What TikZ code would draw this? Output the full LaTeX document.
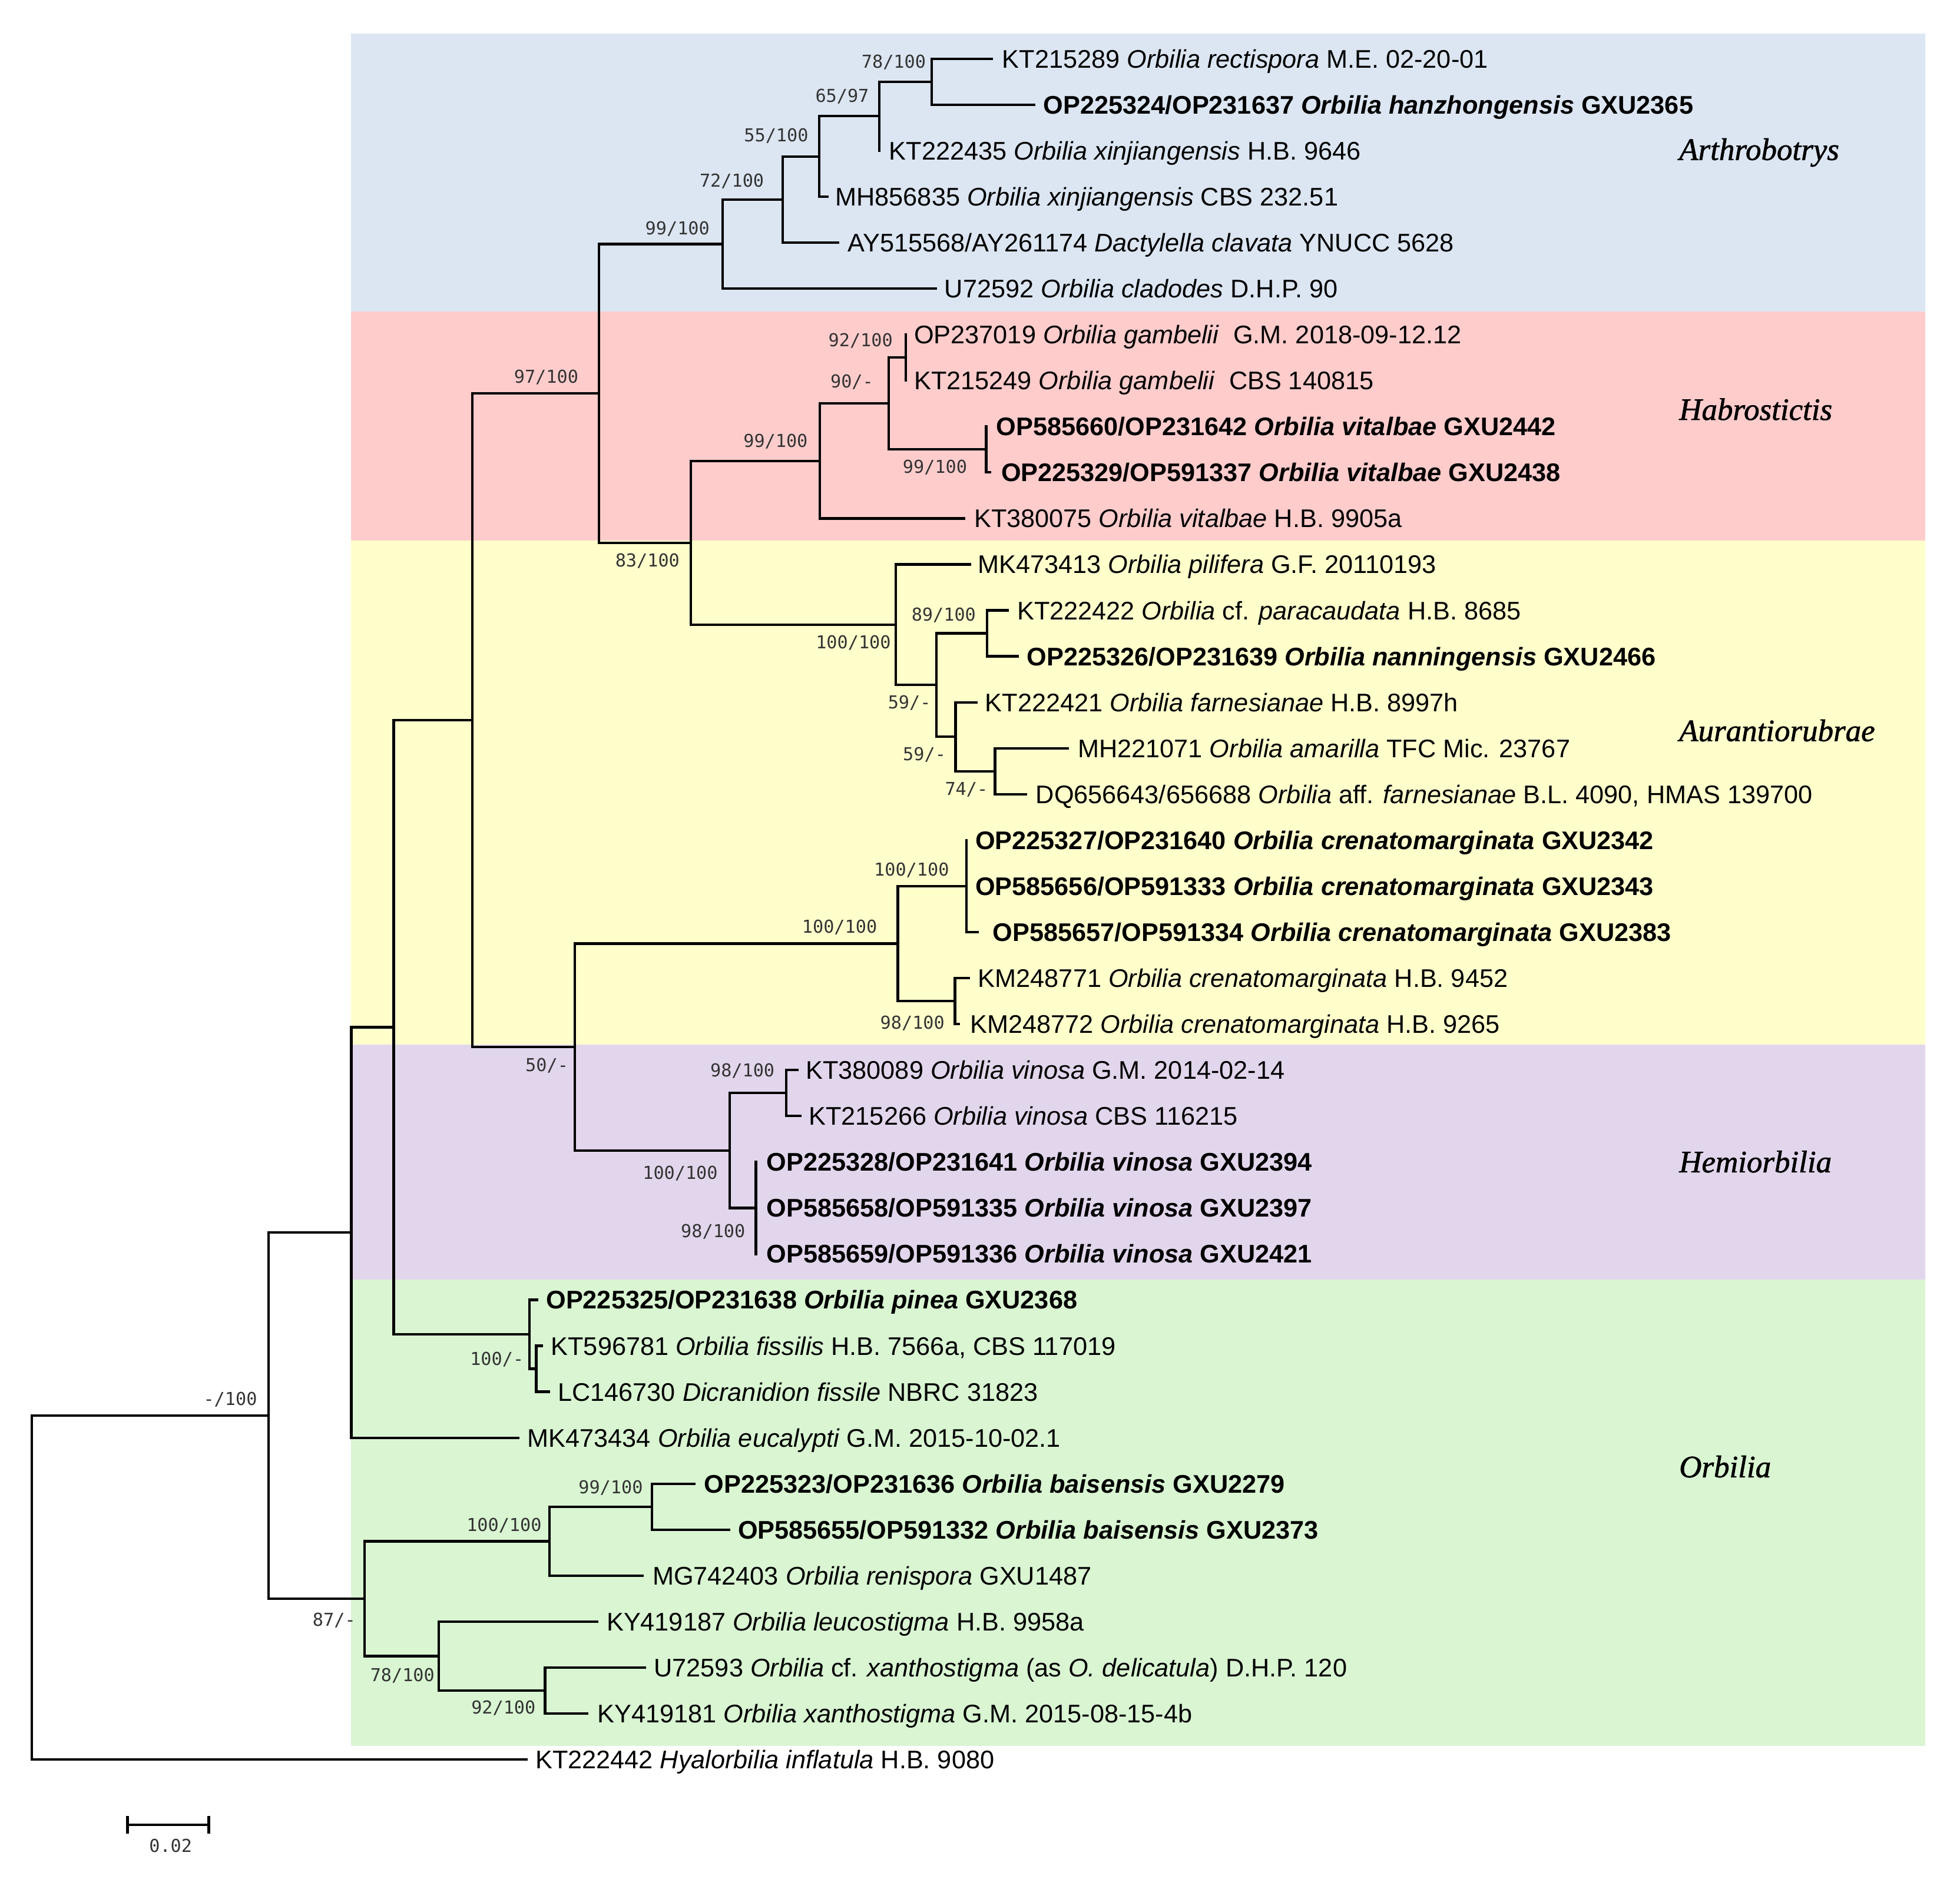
\documentclass[tikz,border=0pt]{standalone}
\usepackage{fontspec}
\setmainfont{Liberation Sans}[Ligatures=NoCommon]
\newfontfamily\supfont{DejaVu Sans Mono}
\newfontfamily\cladefont{Liberation Serif}[ItalicFeatures={FakeBold=1.3}]
\definecolor{bandA}{HTML}{DCE6F2}
\definecolor{bandH}{HTML}{FFCCCC}
\definecolor{bandU}{HTML}{FFFFCC}
\definecolor{bandE}{HTML}{E2D6EC}
\definecolor{bandO}{HTML}{D9F5D2}
\begin{document}
\begin{tikzpicture}[x=0.02cm,y=-0.02cm,
  br/.style={line width=1.15pt, line cap=rect, line join=miter},
  leaf/.style={anchor=west, inner sep=0pt, text height=8.3pt, text depth=0pt,
    font=\fontsize{11.6pt}{13pt}\selectfont},
  bleaf/.style={leaf, font=\fontsize{11.6pt}{13pt}\selectfont\bfseries},
  supp/.style={anchor=east, inner sep=0pt, text height=5.9pt, text depth=0pt,
    font=\supfont\fontsize{8.1pt}{9pt}\selectfont, text=black!80},
  clade/.style={anchor=base west, inner sep=0pt,
    font=\cladefont\itshape\fontsize{14.2pt}{16pt}\selectfont}]
\useasboundingbox (0,0) rectangle (1568,1511);
% background bands
\fill[bandA] (281,27) rectangle (1540,249.3);
\fill[bandH] (281,249.3) rectangle (1540,432.5);
\fill[bandU] (281,432.5) rectangle (1540,836);
\fill[bandE] (281,836) rectangle (1540,1024);
\fill[bandO] (281,1024) rectangle (1540,1397);
% clade names
\node[clade] (cA) at (1343,128) {Arthrobotrys};
\node[clade] (cH) at (1343,336) {Habrostictis};
\node[clade] (cU) at (1343,593) {Aurantiorubrae};
\node[clade] (cE) at (1343,938) {Hemiorbilia};
\node[clade] (cO) at (1343,1182) {Orbilia};
% internal nodes
\coordinate (R) at (25.6,1270.26);
\coordinate (N1) at (215,1132.66);
\coordinate (N2) at (281,986.19);
\coordinate (N3) at (315,821.97);
\coordinate (N4) at (378,576.29);
\coordinate (N5) at (479,314.8);
\coordinate (N6) at (578,195.27);
\coordinate (N7) at (626,159.64);
\coordinate (N8) at (655.5,125.16);
\coordinate (N9) at (703.5,92.98);
\coordinate (N10) at (745.5,65.39);
\coordinate (N11) at (552.5,434.34);
\coordinate (N12) at (656,368.83);
\coordinate (N13) at (711,322.85);
\coordinate (N14) at (724.5,286.07);
\coordinate (N15) at (789,359.63);
\coordinate (N16) at (716.5,499.85);
\coordinate (N17) at (749,548.1);
\coordinate (N18) at (789.5,506.75);
\coordinate (N19) at (764.5,589.5);
\coordinate (N20) at (796,617.09);
\coordinate (N21) at (460,837.77);
\coordinate (N22) at (718.2,755.02);
\coordinate (N23) at (583.6,920.53);
\coordinate (N24) at (773.2,709.04);
\coordinate (N25) at (764,800.99);
\coordinate (N26) at (629,874.55);
\coordinate (N27) at (604.7,966.5);
\coordinate (N28) at (423.7,1067.65);
\coordinate (N29) at (429,1095.23);
\coordinate (N30) at (291.5,1279.13);
\coordinate (N31) at (439.6,1233.16);
\coordinate (N32) at (351,1325.1);
\coordinate (N33) at (521.7,1205.57);
\coordinate (N34) at (436,1352.69);
% leaf tips
\coordinate (t1) at (793.5,47);
\coordinate (t2) at (827.3,83.78);
\coordinate (t3) at (703.5,120.56);
\coordinate (t4) at (661.7,157.34);
\coordinate (t5) at (670.6,194.12);
\coordinate (t6) at (748.6,230.9);
\coordinate (t7) at (724.5,267.68);
\coordinate (t8) at (724.5,304.46);
\coordinate (t9) at (789,341.24);
\coordinate (t10) at (792,378.02);
\coordinate (t11) at (771.2,414.8);
\coordinate (t12) at (775.7,451.58);
\coordinate (t13) at (806.3,488.36);
\coordinate (t14) at (814.2,525.14);
\coordinate (t15) at (781,561.92);
\coordinate (t16) at (854.2,598.7);
\coordinate (t17) at (820.5,635.48);
\coordinate (t18) at (773.2,672.26);
\coordinate (t19) at (773.2,709.04);
\coordinate (t20) at (782.2,745.82);
\coordinate (t21) at (775,782.6);
\coordinate (t22) at (766.8,819.38);
\coordinate (t23) at (638.1,856.16);
\coordinate (t24) at (640.2,892.94);
\coordinate (t25) at (604.7,929.72);
\coordinate (t26) at (604.7,966.5);
\coordinate (t27) at (604.7,1003.28);
\coordinate (t28) at (429.5,1040.06);
\coordinate (t29) at (433.4,1076.84);
\coordinate (t30) at (438.9,1113.62);
\coordinate (t31) at (414.6,1150.4);
\coordinate (t32) at (555.5,1187.18);
\coordinate (t33) at (583,1223.96);
\coordinate (t34) at (513.8,1260.74);
\coordinate (t35) at (477.7,1297.52);
\coordinate (t36) at (515.7,1334.3);
\coordinate (t37) at (469.8,1371.08);
\coordinate (t38) at (421,1407.86);
% branches
\foreach \p/\c in {R/N1,R/t38,N1/N2,N1/N30,N2/N3,N2/t31,N3/N4,N3/N28,N4/N5,N4/N21,
  N5/N6,N5/N11,N6/N7,N6/t6,N7/N8,N7/t5,N8/N9,N8/t4,N9/N10,N9/t3,N10/t1,N10/t2,
  N11/N12,N11/N16,N12/N13,N12/t11,N13/N14,N13/N15,N14/t7,N14/t8,N15/t9,N15/t10,
  N16/t12,N16/N17,N17/N18,N17/N19,N18/t13,N18/t14,N19/t15,N19/N20,N20/t16,N20/t17,
  N21/N22,N21/N23,N22/N24,N22/N25,N24/t18,N24/t20,N25/t21,N25/t22,
  N23/N26,N23/N27,N26/t23,N26/t24,N27/t25,N27/t27,
  N28/t28,N28/N29,N29/t29,N29/t30,N30/N31,N30/N32,N31/N33,N31/t34,N33/t32,N33/t33,
  N32/t35,N32/N34,N34/t36,N34/t37}
  \draw[br] (\p) |- (\c);
% leaf labels
\node[leaf] (l1) at (801.5,47) {KT215289 \textit{Orbilia rectispora} M.E. 02-20-01};
\node[bleaf] (l2) at (834.3,83.78) {OP225324/OP231637 \textit{Orbilia hanzhongensis} GXU2365};
\node[leaf] (l3) at (711,120.56) {KT222435 \textit{Orbilia xinjiangensis} H.B. 9646};
\node[leaf] (l4) at (668,157.34) {MH856835 \textit{Orbilia xinjiangensis} CBS 232.51};
\node[leaf] (l5) at (678,194.12) {AY515568/AY261174 \textit{Dactylella clavata} YNUCC 5628};
\node[leaf] (l6) at (755.3,230.9) {U72592 \textit{Orbilia cladodes} D.H.P. 90};
\node[leaf] (l7) at (731,267.68) {OP237019 \textit{Orbilia gambelii}\ \ G.M. 2018-09-12.12};
\node[leaf] (l8) at (731,304.46) {KT215249 \textit{Orbilia gambelii}\ \ CBS 140815};
\node[bleaf] (l9) at (796.7,341.24) {OP585660/OP231642 \textit{Orbilia vitalbae} GXU2442};
\node[bleaf] (l10) at (800.6,378.02) {OP225329/OP591337 \textit{Orbilia vitalbae} GXU2438};
\node[leaf] (l11) at (779,414.8) {KT380075 \textit{Orbilia vitalbae} H.B. 9905a};
\node[leaf] (l12) at (782,451.58) {MK473413 \textit{Orbilia pilifera} G.F. 20110193};
\node[leaf] (l13) at (813.4,488.36) {KT222422 \textit{Orbilia} cf. \textit{paracaudata} H.B. 8685};
\node[bleaf] (l14) at (821.2,525.14) {OP225326/OP231639 \textit{Orbilia nanningensis} GXU2466};
\node[leaf] (l15) at (787.8,561.92) {KT222421 \textit{Orbilia farnesianae} H.B. 8997h};
\node[leaf] (l16) at (862,598.7) {MH221071 \textit{Orbilia amarilla} TFC Mic. 23767};
\node[leaf] (l17) at (828.3,635.48) {DQ656643/656688 \textit{Orbilia} aff. \textit{farnesianae} B.L. 4090, HMAS 139700};
\node[bleaf] (l18) at (780,672.26) {OP225327/OP231640 \textit{Orbilia crenatomarginata} GXU2342};
\node[bleaf] (l19) at (780,709.04) {OP585656/OP591333 \textit{Orbilia crenatomarginata} GXU2343};
\node[bleaf] (l20) at (794,745.82) {OP585657/OP591334 \textit{Orbilia crenatomarginata} GXU2383};
\node[leaf] (l21) at (782.2,782.6) {KM248771 \textit{Orbilia crenatomarginata} H.B. 9452};
\node[leaf] (l22) at (775.9,819.38) {KM248772 \textit{Orbilia crenatomarginata} H.B. 9265};
\node[leaf] (l23) at (644.4,856.16) {KT380089 \textit{Orbilia vinosa} G.M. 2014-02-14};
\node[leaf] (l24) at (646.8,892.94) {KT215266 \textit{Orbilia vinosa} CBS 116215};
\node[bleaf] (l25) at (613,929.72) {OP225328/OP231641 \textit{Orbilia vinosa} GXU2394};
\node[bleaf] (l26) at (613,966.5) {OP585658/OP591335 \textit{Orbilia vinosa} GXU2397};
\node[bleaf] (l27) at (613,1003.28) {OP585659/OP591336 \textit{Orbilia vinosa} GXU2421};
\node[bleaf] (l28) at (436.6,1040.06) {OP225325/OP231638 \textit{Orbilia pinea} GXU2368};
\node[leaf] (l29) at (440.5,1076.84) {KT596781 \textit{Orbilia fissilis} H.B. 7566a, CBS 117019};
\node[leaf] (l30) at (446,1113.62) {LC146730 \textit{Dicranidion fissile} NBRC 31823};
\node[leaf] (l31) at (421.7,1150.4) {MK473434 \textit{Orbilia eucalypti} G.M. 2015-10-02.1};
\node[bleaf] (l32) at (563,1187.18) {OP225323/OP231636 \textit{Orbilia baisensis} GXU2279};
\node[bleaf] (l33) at (590,1223.96) {OP585655/OP591332 \textit{Orbilia baisensis} GXU2373};
\node[leaf] (l34) at (521.7,1260.74) {MG742403 \textit{Orbilia renispora} GXU1487};
\node[leaf] (l35) at (485,1297.52) {KY419187 \textit{Orbilia leucostigma} H.B. 9958a};
\node[leaf] (l36) at (522.9,1334.3) {U72593 \textit{Orbilia} cf. \textit{xanthostigma} (as \textit{O. delicatula}) D.H.P. 120};
\node[leaf] (l37) at (477.6,1371.08) {KY419181 \textit{Orbilia xanthostigma} G.M. 2015-08-15-4b};
\node[leaf] (l38) at (428,1407.86) {KT222442 \textit{Hyalorbilia inflatula} H.B. 9080};
% support values
\node[supp] (s1) at (741,49) {78/100};
\node[supp] (s2) at (695.5,76.6) {65/97};
\node[supp] (s3) at (647,108.1) {55/100};
\node[supp] (s4) at (611.5,144.3) {72/100};
\node[supp] (s5) at (568,182.6) {99/100};
\node[supp] (s6) at (463,301.5) {97/100};
\node[supp] (s7) at (544,448.2) {83/100};
\node[supp] (s8) at (714.5,272) {92/100};
\node[supp] (s9) at (699,305.3) {90/-};
\node[supp] (s10) at (646.5,352.7) {99/100};
\node[supp] (s11) at (774,373.5) {99/100};
\node[supp] (s12) at (781,491.5) {89/100};
\node[supp] (s13) at (713,514) {100/100};
\node[supp] (s14) at (745,562) {59/-};
\node[supp] (s15) at (757,603.5) {59/-};
\node[supp] (s16) at (790.6,631.1) {74/-};
\node[supp] (s17) at (759.6,695.8) {100/100};
\node[supp] (s18) at (702,741.2) {100/100};
\node[supp] (s19) at (756,818.3) {98/100};
\node[supp] (s20) at (620,856.1) {98/100};
\node[supp] (s21) at (574.5,938.1) {100/100};
\node[supp] (s22) at (596.5,985) {98/100};
\node[supp] (s23) at (455,852) {50/-};
\node[supp] (s24) at (419.3,1087.2) {100/-};
\node[supp] (s25) at (206,1119) {-/100};
\node[supp] (s26) at (284.8,1295.8) {87/-};
\node[supp] (s27) at (514.6,1190) {99/100};
\node[supp] (s28) at (433.6,1220) {100/100};
\node[supp] (s29) at (348,1340.4) {78/100};
\node[supp] (s30) at (428.8,1366) {92/100};
% scale bar
\coordinate (sb1) at (102,1460);
\coordinate (sb2) at (167,1460);
\coordinate (sb1a) at (102,1453);
\coordinate (sb1b) at (102,1467);
\coordinate (sb2a) at (167,1453);
\coordinate (sb2b) at (167,1467);
\draw[br] (sb1) -- (sb2);
\draw[line width=1.4pt] (sb1a) -- (sb1b);
\draw[line width=1.4pt] (sb2a) -- (sb2b);
\node[supp, anchor=center] (sbl) at (136.5,1477) {0.02};
\end{tikzpicture}
\end{document}
